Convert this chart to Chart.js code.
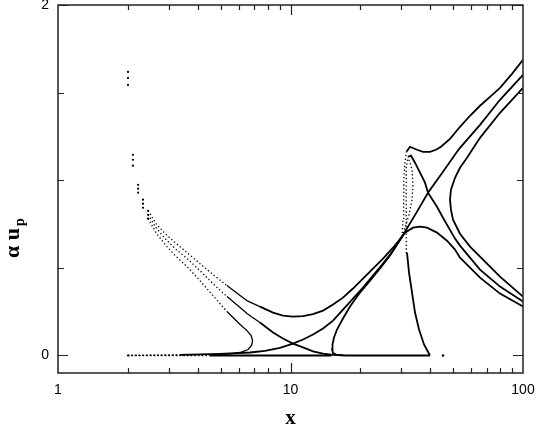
<!DOCTYPE html>
<html>
<head>
<meta charset="utf-8">
<script src="https://cdn.jsdelivr.net/npm/chart.js@4.4.0/dist/chart.umd.min.js"></script>
<style>
  html, body { margin: 0; padding: 0; background: #fff; }
</style>
</head>
<body>
<canvas id="chart" width="537" height="426"></canvas>
<script>
// branches, x on a log axis
const upperX = [2.0, 2.1, 2.21, 2.32, 2.44, 2.64, 2.89, 3.19, 3.59, 4.08, 4.64, 5.33, 6.07, 6.5, 6.77, 7.39, 8.41, 9.28, 10.25, 11.32, 12.5, 13.8, 15.24, 16.82, 18.57, 20.5, 22.63, 25.0, 27.6, 30.17];
const upperY = [1.618, 1.145, 0.974, 0.889, 0.826, 0.752, 0.695, 0.644, 0.587, 0.524, 0.462, 0.399, 0.342, 0.313, 0.302, 0.279, 0.245, 0.228, 0.222, 0.225, 0.236, 0.256, 0.291, 0.330, 0.382, 0.439, 0.496, 0.553, 0.615, 0.678];

const middleX = [2.0, 2.1, 2.21, 2.32, 2.44, 2.64, 2.89, 3.19, 3.59, 4.08, 4.64, 5.33, 6.07, 6.5, 6.77, 7.39, 8.41, 9.28, 10.25, 11.32, 12.5, 13.8, 15.24, 16.82];
const middleY = [1.584, 1.117, 0.952, 0.866, 0.803, 0.729, 0.667, 0.610, 0.553, 0.484, 0.410, 0.336, 0.274, 0.239, 0.222, 0.188, 0.131, 0.097, 0.068, 0.046, 0.023, 0.011, 0.004, 0.0];

const lowerX = [2.0, 2.1, 2.21, 2.32, 2.44, 2.64, 2.89, 3.19, 3.59, 4.08, 4.64, 5.33, 6.07, 6.5, 6.77, 6.87, 6.8, 6.57, 6.07, 5.5, 4.5, 3.5, 2.0];
const lowerY = [1.544, 1.083, 0.929, 0.843, 0.781, 0.701, 0.632, 0.570, 0.507, 0.427, 0.342, 0.251, 0.177, 0.142, 0.114, 0.085, 0.057, 0.034, 0.017, 0.009, 0.004, 0.002, 0.0];

const risingX = [2.0, 3.35, 4.98, 6.7, 7.77, 9.01, 10.25, 11.32, 12.5, 13.8, 15.24, 16.82, 18.57, 20.5, 22.63, 25.0, 27.6, 30.17];
const risingY = [0.0, 0.003, 0.009, 0.017, 0.026, 0.043, 0.068, 0.091, 0.120, 0.154, 0.199, 0.262, 0.325, 0.387, 0.456, 0.524, 0.598, 0.678];

const foldX = [39.8, 29.6, 22.0, 17.2, 15.85, 15.24, 15.09, 15.16, 15.39, 15.85, 16.82, 18.03, 19.9, 21.98, 24.26, 26.79, 30.17];
const foldY = [0, 0, 0, 0, 0.003, 0.014, 0.034, 0.063, 0.103, 0.148, 0.211, 0.279, 0.359, 0.427, 0.496, 0.570, 0.678];

const baseX = [2.0, 4.5, 10.0, 15.0];
const baseY = [0, 0, 0, 0];

const topX = [30.17, 30.47, 30.62, 30.77, 31.08, 31.54, 32.66, 35.01, 37.15, 39.81, 42.25, 44.39, 48.53, 53.58, 59.16, 65.33, 72.13, 79.63, 89.67, 100];
const topY = [0.678, 0.775, 0.889, 1.003, 1.105, 1.162, 1.191, 1.174, 1.162, 1.162, 1.174, 1.191, 1.236, 1.305, 1.368, 1.425, 1.476, 1.527, 1.607, 1.687];

const straightX = [30.17, 35.01, 39.03, 45.28, 52.03, 53.58, 65.33, 79.63, 100];
const straightY = [0.678, 0.821, 0.929, 1.048, 1.162, 1.185, 1.316, 1.459, 1.601];

const rightFoldX = [100, 79.63, 65.33, 57.43, 53.58, 51.0, 49.0, 48.53, 49.0, 50.0, 52.03, 53.58, 59.16, 65.33, 79.63, 100];
const rightFoldY = [1.527, 1.385, 1.242, 1.128, 1.071, 1.014, 0.946, 0.889, 0.832, 0.775, 0.729, 0.695, 0.621, 0.564, 0.450, 0.336];

const peakX = [39.81, 37.52, 35.71, 34.32, 33.32, 32.34, 31.70, 31.39, 31.39, 31.54, 31.54, 32.02, 32.98, 34.32, 36.06, 37.89, 39.03, 42.67, 45.28, 51.0, 53.58, 59.16, 65.33, 79.63, 100];
const peakY = [0, 0.063, 0.148, 0.245, 0.359, 0.473, 0.587, 0.707, 0.832, 0.974, 1.071, 1.134, 1.140, 1.100, 1.043, 0.986, 0.929, 0.849, 0.786, 0.667, 0.627, 0.558, 0.490, 0.393, 0.308];

const bumpX = [30.17, 31.08, 33.65, 36.06, 38.65, 42.67, 47.11, 51.0, 53.58, 59.16, 65.33, 79.63, 100];
const bumpY = [0.678, 0.701, 0.729, 0.735, 0.729, 0.701, 0.655, 0.604, 0.558, 0.501, 0.444, 0.353, 0.279];

const innerX = [32.34, 33.32, 33.65, 33.32, 32.34, 31.08, 30.17];
const innerY = [1.117, 1.060, 0.974, 0.889, 0.803, 0.729, 0.678];

const strayX = [45.28];
const strayY = [0];

// axis ticks
const xLabelTicks = [1, 10, 100];
const xMarkTicks = [2, 3, 4, 5, 6, 7, 8, 9, 10, 20, 30, 40, 50, 60, 70, 80, 90];
const yLabelTicks = [0, 2];
const yMarkTicks = [0, 0.5, 1, 1.5, 2];

function branch(xs, ys, dotBelow, hideBelow, thinBelow) {
    dotBelow = dotBelow || 0;
    hideBelow = hideBelow || 0;
    thinBelow = thinBelow || 0;
    const below = (ctx, lim) => ctx.p0.parsed.x < lim && ctx.p1.parsed.x < lim;
    return {
        data: xs.map((x, i) => ({ x: x, y: ys[i] })),
        showLine: true,
        borderColor: '#000',
        borderWidth: 1.8,
        tension: 0,
        pointBackgroundColor: '#000',
        pointBorderWidth: 0,
        pointHoverRadius: 0,
        pointRadius: ctx => (ctx.raw && ctx.raw.x < hideBelow ? 1.1 : 0),
        segment: {
            borderColor: ctx => below(ctx, hideBelow) ? 'rgba(0,0,0,0)' : undefined,
            borderDash: ctx => below(ctx, dotBelow) ? [1.3, 2.4] : undefined,
            borderWidth: ctx => below(ctx, dotBelow) ? 1.3 : (below(ctx, thinBelow) ? 1.3 : undefined)
        }
    };
}

const yTitle = {
    id: 'yTitle',
    afterDraw(chart) {
        const ctx = chart.ctx;
        ctx.save();
        ctx.translate(19, 258);
        ctx.rotate(-Math.PI / 2);
        ctx.fillStyle = '#000';
        ctx.textBaseline = 'alphabetic';
        ctx.textAlign = 'left';
        ctx.font = 'bold 22px "Liberation Serif"';
        const main = 'α u';
        ctx.fillText(main, 0, 0);
        const w = ctx.measureText(main).width;
        ctx.font = 'bold 14px "Liberation Serif"';
        ctx.fillText('p', w + 2, 5);
        ctx.restore();
    }
};

const frameTicks = {
    id: 'frameTicks',
    afterDatasetsDraw(chart) {
        const { ctx, chartArea: a, scales: { x, y } } = chart;
        ctx.save();
        ctx.strokeStyle = '#222';
        ctx.lineWidth = 1.2;
        ctx.beginPath();
        xMarkTicks.forEach(v => {
            const px = Math.round(x.getPixelForValue(v)) + 0.5;
            const len = v === 10 ? 10 : 5;
            ctx.moveTo(px, a.bottom); ctx.lineTo(px, a.bottom - len);
            ctx.moveTo(px, a.top); ctx.lineTo(px, a.top + len);
        });
        yMarkTicks.forEach(v => {
            const py = Math.round(y.getPixelForValue(v)) + 0.5;
            const len = yLabelTicks.includes(v) ? 10 : 6;
            ctx.moveTo(a.left, py); ctx.lineTo(a.left + len, py);
            ctx.moveTo(a.right, py); ctx.lineTo(a.right - len, py);
        });
        ctx.stroke();
        ctx.lineWidth = 1.5;
        ctx.strokeRect(a.left, a.top, a.right - a.left, a.bottom - a.top);
        ctx.restore();
    }
};

const tickFont = { family: '"Liberation Sans", Arial, sans-serif', size: 14 };

new Chart(document.getElementById('chart'), {
    type: 'scatter',
    data: {
        datasets: [
            branch(upperX, upperY, 5.4, 2.45, 8),
            branch(middleX, middleY, 5.4, 2.45, 8),
            branch(lowerX, lowerY, 5.4, 2.45, 8),
            branch(risingX, risingY, 4.6),
            branch(baseX, baseY, 4.6),
            branch(foldX, foldY),
            branch(topX, topY, 31.6),
            branch(straightX, straightY),
            branch(rightFoldX, rightFoldY),
            branch(peakX, peakY, 32.1),
            branch(bumpX, bumpY),
            branch(innerX, innerY, 100),
            Object.assign(branch(strayX, strayY), { pointRadius: 1.3, showLine: false })
        ]
    },
    options: {
        responsive: false,
        animation: false,
        events: [],
        layout: { autoPadding: false, padding: { top: 5, right: 14, left: 0, bottom: 0 } },
        plugins: { legend: { display: false }, tooltip: { enabled: false } },
        scales: {
            x: {
                type: 'logarithmic',
                min: 1,
                max: 100,
                afterBuildTicks: s => { s.ticks = xLabelTicks.map(v => ({ value: v })); },
                afterFit: s => { s.height = 53; s.paddingLeft = 0; s.paddingRight = 0; },
                ticks: {
                    autoSkip: false,
                    maxRotation: 0,
                    padding: 9,
                    color: '#000',
                    font: tickFont,
                    callback: v => String(v)
                },
                grid: { display: false, drawTicks: false },
                border: { display: false },
                title: {
                    display: true,
                    text: 'x',
                    color: '#000',
                    font: { family: '"Liberation Serif", serif', size: 21, weight: 'bold', lineHeight: 0.7 },
                    padding: { top: 0, bottom: 0 }
                }
            },
            y: {
                type: 'linear',
                min: -0.1,
                max: 2,
                afterBuildTicks: s => { s.ticks = yLabelTicks.map(v => ({ value: v })); },
                afterFit: s => { s.width = 58; s.paddingTop = 0; s.paddingBottom = 0; },
                ticks: {
                    padding: 9,
                    color: '#000',
                    font: tickFont,
                    callback: v => String(v)
                },
                grid: { display: false, drawTicks: false },
                border: { display: false }
            }
        }
    },
    plugins: [frameTicks, yTitle]
});
</script>
</body>
</html>
